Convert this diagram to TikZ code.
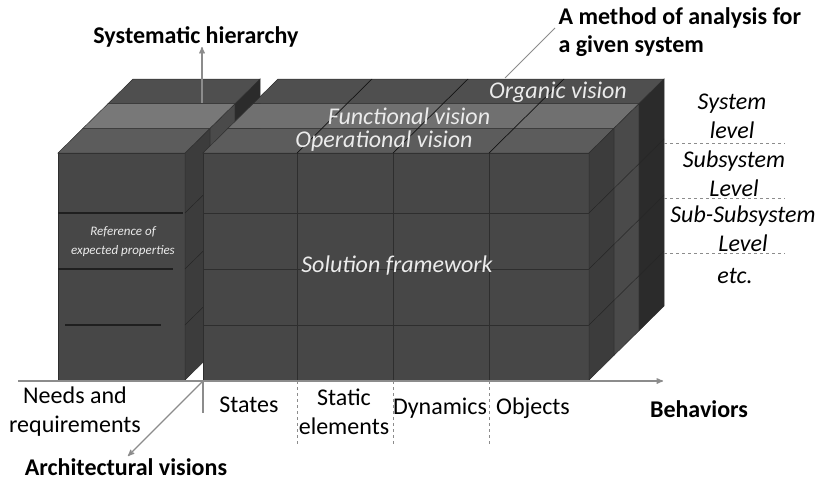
\documentclass[tikz,border=0pt]{standalone}
\usepackage{fontspec}
\setmainfont{Carlito}
\usetikzlibrary{arrows,calc}

\definecolor{frontgray}{gray}{0.28}
\definecolor{topfront}{gray}{0.36}
\definecolor{topmid}{gray}{0.44}
\definecolor{topmidleft}{gray}{0.47}
\definecolor{topback}{gray}{0.31}
\definecolor{sidefront}{gray}{0.235}
\definecolor{sidemid}{gray}{0.29}
\definecolor{sideback}{gray}{0.17}

\begin{document}
\begin{tikzpicture}[x=1pt,y=-1pt,>=stealth',
  face/.style={draw=black!82,line width=0.5pt},
  grid line/.style={draw=black!82,line width=0.8pt},
  depth line/.style={draw=black!92,line width=0.7pt},
  axis/.style={draw=black!45,line width=1.3pt},
  guide/.style={draw=black!45,dashed,line width=0.6pt},
  vision/.style={font=\fontsize{24}{29}\selectfont\itshape,text=black!8,inner sep=1pt},
  level label/.style={font=\fontsize{24}{29}\selectfont\itshape,align=center},
  plain label/.style={font=\fontsize{24}{29}\selectfont,align=center},
  title label/.style={font=\fontsize{24}{28}\selectfont\bfseries}]

\useasboundingbox (0,0) rectangle (818,480);

% left block (needs and requirements)
\fill[frontgray,face] (58,153) rectangle (185,380);
\fill[sidefront,face] (185,153) -- (210,128.3) -- (210,355.3) -- (185,380) -- cycle;
\fill[sidemid,face] (210,128.3) -- (235,103.7) -- (235,330.7) -- (210,355.3) -- cycle;
\fill[sideback,face] (235,103.7) -- (260,79) -- (260,306) -- (235,330.7) -- cycle;
\fill[topfront,face] (58,153) -- (185,153) -- (210,128.3) -- (83,128.3) -- cycle;
\fill[topmidleft,face] (83,128.3) -- (210,128.3) -- (235,103.7) -- (108,103.7) -- cycle;
\fill[topback,face] (108,103.7) -- (235,103.7) -- (260,79) -- (133,79) -- cycle;
\draw[black!88,line width=1.4pt] (58,213) -- (183,213) (58,269) -- (173,269) (65,325) -- (161,325);
\draw[black!85,line width=0.5pt] (185,213) -- (203,195.2) (185,269) -- (203,251.2) (185,325) -- (203,307.2);

% right block (solution framework)
\fill[frontgray,face] (203,153) rectangle (589,380);
\fill[topfront,face] (203,153) -- (589,153) -- (614,128.3) -- (228,128.3) -- cycle;
\fill[topmid,face] (228,128.3) -- (614,128.3) -- (639,103.7) -- (253,103.7) -- cycle;
\fill[topback,face] (253,103.7) -- (639,103.7) -- (664,79) -- (278,79) -- cycle;
\fill[sidefront,face] (589,153) -- (614,128.3) -- (614,355.3) -- (589,380) -- cycle;
\fill[sidemid,face] (614,128.3) -- (639,103.7) -- (639,330.7) -- (614,355.3) -- cycle;
\fill[sideback,face] (639,103.7) -- (664,79) -- (664,306) -- (639,330.7) -- cycle;

\draw[grid line] (297,153) -- (297,380) (393,153) -- (393,380) (489,153) -- (489,380);
\draw[grid line] (203,213) -- (589,213) (203,269) -- (589,269) (203,325) -- (589,325);
\draw[depth line] (297,153) -- (372,79) (393,153) -- (468,79) (489,153) -- (564,79);
\draw[black!85,line width=0.5pt] (589,213) -- (664,139) (589,269) -- (664,195) (589,325) -- (664,251);

% axes
\coordinate (O) at (203,381);
\coordinate (X0) at (18,381);
\coordinate (X1) at (663,381);
\coordinate (Ystub) at (203,413);
\coordinate (Y0) at (202,103);
\coordinate (Y1) at (202,47);
\coordinate (Z1) at (128,456);
\coordinate (Z2) at (505,78);
\coordinate (Z3) at (555,28);

\draw[axis,->] (X0) -- (X1);
\draw[axis] (O) -- (Ystub);
\draw[axis,->] (Y0) -- (Y1);
\draw[axis,->] (O) -- (Z1);
\draw[axis,line width=0.8pt] (Z2) -- (Z3);

% level guides
\coordinate (g1) at (664,143);
\coordinate (h1) at (785,143);
\coordinate (g2) at (664,198);
\coordinate (h2) at (785,198);
\coordinate (g3) at (664,253);
\coordinate (h3) at (785,253);
\draw[guide] (g1) -- (h1) (g2) -- (h2) (g3) -- (h3);

% column guides
\coordinate (c1) at (297,381);
\coordinate (d1) at (297,446);
\coordinate (c2) at (393,381);
\coordinate (d2) at (393,446);
\coordinate (c3) at (489,381);
\coordinate (d3) at (489,446);
\draw[guide] (c1) -- (d1) (c2) -- (d2) (c3) -- (d3);

% texts
\node[vision](OrgV) at (558,92) {Organic vision};
\node[vision](FunV) at (409,116) {Functional vision};
\node[vision](OpeV) at (384,141) {Operational vision};
\node[vision](Sol) at (397,266) {Solution framework};
\node[vision,font=\fontsize{13}{19}\selectfont\itshape,align=center](Ref) at (123,242) {Reference of\\expected properties};

\node[level label](L1) at (732,116.5) {System\\level};
\node[level label](L2) at (734,173.5) {Subsystem\\Level};
\node[level label](L3) at (743,229) {Sub-Subsystem\\Level};
\node[level label](L4) at (735,276) {etc.};

\node[plain label](Needs) at (75,412) {Needs and\\requirements};
\node[plain label](States) at (249,405) {States};
\node[plain label](Static) at (344,412) {Static\\elements};
\node[plain label](Dyn) at (440,408) {Dynamics};
\node[plain label](Obj) at (533,408) {Objects};

\node[title label](Beh) at (699,409) {Behaviors};
\node[title label](Arch) at (126,467) {Architectural visions};
\node[title label](Hier) at (196,37) {Systematic hierarchy};
\node[title label,align=left,anchor=west](Meth) at (555,32) {A method of analysis for\\a given system};
\end{tikzpicture}
\end{document}
